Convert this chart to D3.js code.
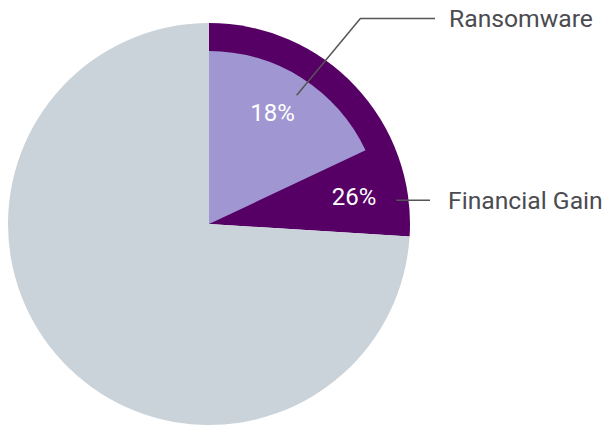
<!DOCTYPE html>
<html>
<head>
<meta charset="utf-8">
<script src="https://cdn.jsdelivr.net/npm/d3@7"></script>
<style>
  body { margin: 0; background: #fff; }
  text { font-family: Roboto, "Noto Sans", sans-serif; }
</style>
</head>
<body>
<svg id="chart" width="607" height="427"></svg>
<script>
// outer ring: motivation share
var outerCats = ['Financial Gain', 'Other'];
var outerVals = [26, 74];
var outerLabels = ['26%', ''];
// inner wedge: ransomware share
var innerCats = ['Ransomware'];
var innerVals = [18];
var innerLabels = ['18%'];

var colors = { fin: '#560066', other: '#cad3d9', ransom: '#a097d2', text: '#4b4b50', line: '#555' };
var cx = 209, cy = 224, rOuter = 201, rInner = 173;

var svg = d3.select('#chart');
var g = svg.append('g').attr('transform', 'translate(' + cx + ',' + cy + ')');

var angle = d3.scaleLinear().domain([0, 100]).range([0, 2 * Math.PI]);

var pie = d3.pie().sort(null).value(d => d);
var outerArcs = pie(outerVals);
var arcOuter = d3.arc().innerRadius(0).outerRadius(rOuter);

g.selectAll('path.outer')
	.data(outerArcs)
	.enter()
	.append('path')
	.attr('class', 'outer')
	.attr('d', arcOuter)
	.attr('fill', (d, i) => i == 0 ? colors.fin : colors.other);

var innerArcs = innerVals.map(v => ({ startAngle: 0, endAngle: angle(v) }));
var arcInner = d3.arc().innerRadius(0).outerRadius(rInner);
g.selectAll('path.inner')
	.data(innerArcs)
	.enter()
	.append('path')
	.attr('class', 'inner')
	.attr('d', arcInner)
	.attr('fill', colors.ransom);

function polar(a, r) {
	return [r * Math.sin(a), -r * Math.cos(a)];
}

// percentage labels
var ransomMid = innerArcs[0].endAngle * 0.46;
var p1 = polar(ransomMid, rInner * 0.74);
g.append('text')
	.attr('x', p1[0]).attr('y', p1[1])
	.attr('text-anchor', 'middle').attr('dy', '0.35em')
	.attr('font-size', 24).attr('fill', '#fff')
	.text(innerLabels[0]);

var finMid = (innerArcs[0].endAngle + outerArcs[0].endAngle) / 2;
var p2 = polar(finMid, rOuter * 0.735);
g.append('text')
	.attr('x', p2[0]).attr('y', p2[1])
	.attr('text-anchor', 'middle').attr('dy', '0.35em')
	.attr('font-size', 24).attr('fill', '#fff')
	.text(outerLabels[0]);

// leader lines and category labels
var a1 = polar(ransomMid * 1.15, rInner * 0.9);
var e1 = polar(ransomMid * 1.22, rOuter * 1.27);
g.append('polyline')
	.attr('points', [a1, e1, [435 - cx, e1[1]]].map(p => p.join(',')).join(' '))
	.attr('fill', 'none').attr('stroke', colors.line).attr('stroke-width', 1.5);
g.append('text')
	.attr('x', 449 - cx).attr('y', e1[1])
	.attr('dy', '0.35em').attr('font-size', 24.7).attr('fill', colors.text)
	.text(innerCats[0]);

var a2 = polar(finMid * 1.045, rOuter * 0.94);
g.append('line')
	.attr('x1', a2[0]).attr('y1', a2[1])
	.attr('x2', 430 - cx).attr('y2', a2[1])
	.attr('stroke', colors.line).attr('stroke-width', 1.5);
g.append('text')
	.attr('x', 448 - cx).attr('y', a2[1])
	.attr('dy', '0.35em').attr('font-size', 24.7).attr('fill', colors.text)
	.text(outerCats[0]);
</script>
</body>
</html>
